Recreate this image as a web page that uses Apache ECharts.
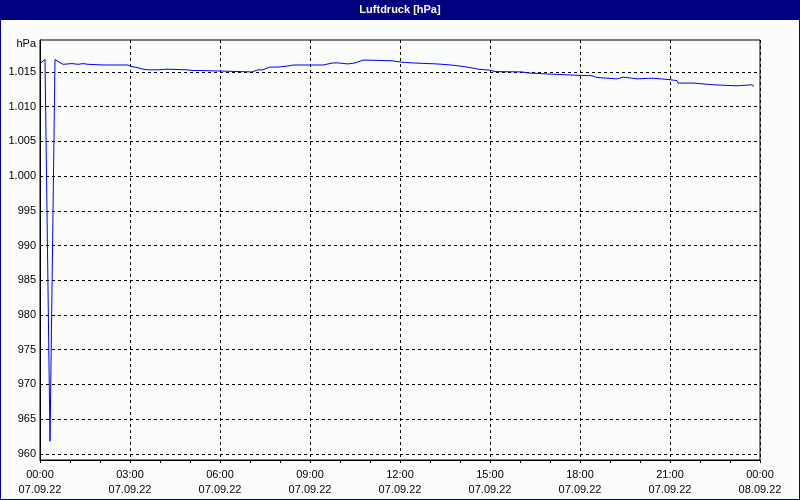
<!DOCTYPE html>
<html>
<head>
<meta charset="utf-8">
<title>Luftdruck</title>
<script src="https://cdn.jsdelivr.net/npm/echarts@6/dist/echarts.min.js"></script>
<style>
  html, body { margin: 0; padding: 0; background: #fafdfa; }
  #chart { width: 800px; height: 500px; }
</style>
</head>
<body>
<div id="chart"></div>
<script>
// minutes after 07.09.22 00:00 and pressure in hPa
let minutes = [
    0, 10, 20, 30, 36, 46, 64, 76, 86, 96, 126, 176, 182, 196, 206, 216, 236, 238, 254, 256,
    294, 296, 306, 324, 326, 424, 426, 436, 446, 454, 460, 476, 480, 500, 506, 566, 568, 586, 596, 598,
    616, 618, 630, 632, 646, 656, 658, 704, 706, 724, 726, 744, 746, 794, 796, 814, 818, 834, 838, 854,
    856, 866, 868, 876, 878, 900, 902, 910, 912, 964, 966, 976, 978, 1016, 1018, 1046, 1048, 1104, 1106, 1114,
    1116, 1154, 1156, 1166, 1168, 1184, 1186, 1194, 1196, 1224, 1226, 1258, 1260, 1274, 1276, 1306, 1310, 1346, 1348, 1394,
    1396, 1424, 1428
];
let pressure = [
    1016.2, 1016.8, 961.8, 1016.8, 1016.5, 1016.1, 1016.2, 1016.1, 1016.2, 1016.1, 1016.0, 1016.0, 1015.8, 1015.6, 1015.4, 1015.3, 1015.3, 1015.4, 1015.4, 1015.3,
    1015.3, 1015.1, 1015.2, 1015.2, 1015.0, 1015.0, 1015.2, 1015.3, 1015.3, 1015.55, 1015.7, 1015.7, 1015.9, 1015.9, 1016.0, 1016.0, 1016.2, 1016.3, 1016.3, 1016.15,
    1016.15, 1016.3, 1016.3, 1016.5, 1016.7, 1016.7, 1016.6, 1016.6, 1016.4, 1016.4, 1016.3, 1016.3, 1016.15, 1016.15, 1016.05, 1016.05, 1015.85, 1015.9, 1015.7, 1015.7,
    1015.55, 1015.55, 1015.4, 1015.4, 1015.25, 1015.25, 1015.05, 1015.05, 1015.0, 1015.0, 1014.85, 1014.85, 1014.7, 1014.7, 1014.6, 1014.6, 1014.45, 1014.45, 1014.2, 1014.2,
    1014.0, 1014.0, 1014.25, 1014.25, 1014.1, 1014.1, 1014.0, 1014.0, 1014.1, 1014.1, 1013.9, 1013.9, 1013.75, 1013.75, 1013.4, 1013.4, 1013.15, 1013.15, 1013.0, 1013.0,
    1013.15, 1013.15, 1012.9
];

let xTimes = ['00:00', '03:00', '06:00', '09:00', '12:00', '15:00', '18:00', '21:00', '00:00'];
let xDates = ['07.09.22', '07.09.22', '07.09.22', '07.09.22', '07.09.22', '07.09.22', '07.09.22', '07.09.22', '08.09.22'];

let yTicks = [960, 965, 970, 975, 980, 985, 990, 995, 1000, 1005, 1010, 1015];
let yLabels = ['960', '965', '970', '975', '980', '985', '990', '995', '1.000', '1.005', '1.010', '1.015'];

let font = '"Liberation Sans Narrow", "Liberation Sans", Arial, sans-serif';
let navy = '#000080';
let dash = { color: '#000', width: 1, type: [3, 3] };

let chart = echarts.init(document.getElementById('chart'), null, { renderer: 'canvas' });

let option = {
    backgroundColor: '#fafdfa',
    animation: false,
    textStyle: { fontFamily: font, fontSize: 11, color: '#000' },
    graphic: [
        { type: 'rect', shape: { x: 0, y: 0, width: 800, height: 20 }, style: { fill: navy }, z: 10 },
        { type: 'rect', shape: { x: 0.5, y: 0.5, width: 799, height: 499 }, style: { fill: 'none', stroke: navy, lineWidth: 1 }, z: 10 },
        {
            type: 'text', left: 'center', top: 4, z: 11,
            style: { text: 'Luftdruck [hPa]', fill: '#fff', font: 'bold 11px ' + font }
        }
    ],
    grid: {
        left: 40, right: 40, top: 40, bottom: 40,
        show: true, borderColor: '#000', borderWidth: 1
    },
    xAxis: {
        type: 'value',
        min: 0,
        max: 1440,
        interval: 180,
        axisLine: { lineStyle: { color: '#000', width: 1 } },
        axisTick: { show: true, length: 3, lineStyle: { color: '#000' } },
        minorTick: { show: true, splitNumber: 3, length: 3, lineStyle: { color: '#000' } },
        splitLine: { show: true, lineStyle: dash },
        axisLabel: {
            margin: 7,
            color: '#000',
            fontFamily: font,
            fontSize: 11,
            lineHeight: 15,
            formatter: v => {
                let i = Math.round(v / 180);
                return xTimes[i] + '\n' + xDates[i];
            }
        }
    },
    yAxis: {
        type: 'value',
        min: 959.1,
        max: 1019.6,
        name: 'hPa',
        nameLocation: 'end',
        nameGap: -4,
        nameTextStyle: { align: 'right', verticalAlign: 'middle', padding: [0, 4, 0, 0], color: '#000', fontFamily: font, fontSize: 11 },
        axisLine: { show: true, lineStyle: { color: '#000', width: 1 } },
        axisTick: { show: false, customValues: yTicks },
        splitLine: { show: true, lineStyle: dash },
        axisLabel: {
            margin: 4,
            color: '#000',
            fontFamily: font,
            fontSize: 11,
            customValues: yTicks,
            formatter: v => yLabels[yTicks.indexOf(Math.round(v))]
        }
    },
    series: [
        {
            type: 'line',
            data: minutes.map((m, i) => [m, pressure[i]]),
            showSymbol: false,
            symbol: 'none',
            lineStyle: { color: '#0000ff', width: 1 },
            clip: true
        }
    ]
};

chart.setOption(option);
</script>
</body>
</html>
